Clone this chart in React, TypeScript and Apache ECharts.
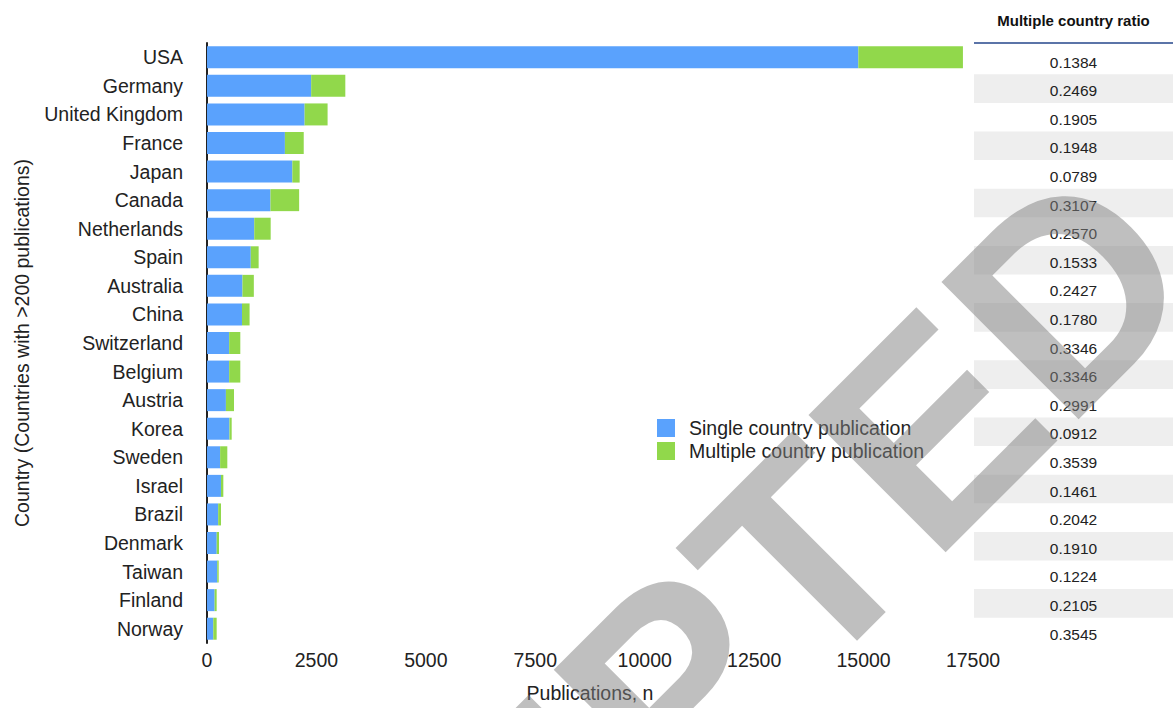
import React, { useEffect, useRef } from "react";
import * as echarts from "echarts";

const countries = [
  "USA", "Germany", "United Kingdom", "France", "Japan", "Canada", "Netherlands",
  "Spain", "Australia", "China", "Switzerland", "Belgium", "Austria", "Korea",
  "Sweden", "Israel", "Brazil", "Denmark", "Taiwan", "Finland", "Norway",
];
const singleCountry = [
  14880, 2380, 2230, 1780, 1950, 1450, 1080, 1000, 810, 800, 506, 506, 432, 513,
  300, 319, 255, 222, 234, 174, 143,
];
const multipleCountry = [
  2390, 780, 525, 430, 167, 655, 375, 180, 260, 173, 255, 255, 185, 51,
  164, 54, 65, 52, 33, 47, 78,
];
const ratios = [
  "0.1384", "0.2469", "0.1905", "0.1948", "0.0789", "0.3107", "0.2570",
  "0.1533", "0.2427", "0.1780", "0.3346", "0.3346", "0.2991", "0.0912",
  "0.3539", "0.1461", "0.2042", "0.1910", "0.1224", "0.2105", "0.3545",
];
const xTicks = { min: 0, max: 17500, interval: 2500 };
const seriesNames = ["Single country publication", "Multiple country publication"];

const FONT = '"Liberation Sans", Arial, Helvetica, sans-serif';

export default function App() {
  const ref = useRef<HTMLDivElement>(null);
  useEffect(() => {
    if (!ref.current) return;
    const chart = echarts.init(ref.current, undefined, { renderer: "svg" });
    const txt = { color: "#222", fontSize: 19.5, fontFamily: FONT };
    chart.setOption({
      animation: false,
      backgroundColor: "#ffffff",
      textStyle: { fontFamily: FONT },
      grid: [
        { left: 207, top: 43, width: 766, height: 600 },
        { left: 974, top: 45.7, width: 199, height: 600.6 },
      ],
      legend: {
        data: seriesNames,
        orient: "vertical",
        left: 652,
        top: 413,
        itemWidth: 18,
        itemHeight: 18,
        itemGap: 3,
        icon: "rect",
        textStyle: { ...txt, padding: [0, 0, 0, 9] },
      },
      xAxis: [
        {
          type: "value",
          gridIndex: 0,
          min: xTicks.min,
          max: xTicks.max,
          interval: xTicks.interval,
          axisLine: { show: false },
          axisTick: { show: false },
          splitLine: { show: false },
          axisLabel: { ...txt, margin: 7, formatter: (v: number) => String(v) },
          name: "Publications, n",
          nameLocation: "middle",
          nameGap: 40,
          nameTextStyle: txt,
        },
        { type: "value", gridIndex: 1, min: 0, max: 1, show: false },
      ],
      yAxis: [
        {
          type: "category",
          gridIndex: 0,
          data: countries,
          inverse: true,
          axisLine: { show: true, lineStyle: { color: "#222", width: 2 } },
          axisTick: { show: false },
          axisLabel: { ...txt, margin: 24 },
          name: "Country (Countries with >200 publications)",
          nameLocation: "middle",
          nameRotate: 90,
          nameGap: 175,
          nameTextStyle: txt,
        },
        { type: "category", gridIndex: 1, data: countries, inverse: true, show: false },
      ],
      series: [
        {
          name: seriesNames[0],
          type: "bar",
          stack: "total",
          xAxisIndex: 0,
          yAxisIndex: 0,
          barWidth: 22,
          data: singleCountry,
          itemStyle: { color: "#5aa2fd" },
        },
        {
          name: seriesNames[1],
          type: "bar",
          stack: "total",
          xAxisIndex: 0,
          yAxisIndex: 0,
          barWidth: 22,
          data: multipleCountry,
          itemStyle: { color: "#91d84b" },
        },
        {
          name: "Multiple country ratio",
          type: "bar",
          xAxisIndex: 1,
          yAxisIndex: 1,
          barWidth: "100%",
          silent: true,
          data: ratios.map(() => 1),
          itemStyle: {
            color: (p: any) => (p.dataIndex % 2 === 1 ? "#eeeeee" : "rgba(255,255,255,0)"),
          },
          label: {
            show: true,
            position: "inside",
            formatter: (p: any) => ratios[p.dataIndex],
            color: "#222",
            fontSize: 15.5,
            fontFamily: FONT,
            offset: [0, 2],
          },
        },
      ],
      graphic: [
        {
          type: "text",
          x: 1073.5,
          y: 20.7,
          style: {
            text: "Multiple country ratio",
            fontSize: 15,
            fontWeight: "bold",
            fontFamily: FONT,
            fill: "#111",
            align: "center",
            verticalAlign: "middle",
          },
        },
        {
          type: "line",
          shape: { x1: 974, y1: 43, x2: 1173, y2: 43 },
          style: { stroke: "#5b74a8", lineWidth: 2 },
        },
        {
          type: "text",
          x: 592,
          y: 768,
          rotation: Math.PI / 4,
          z: 100,
          silent: true,
          style: {
            text: "ACCEPTED",
            fontSize: 282,
            fontWeight: "bold",
            fontFamily: FONT,
            fill: "rgba(127,127,127,0.5)",
            align: "center",
            verticalAlign: "middle",
          },
        },
      ],
    });
    return () => chart.dispose();
  }, []);
  return (
    <div
      ref={ref}
      style={{ position: "fixed", left: 0, top: 0, width: 1173, height: 708 }}
    />
  );
}
